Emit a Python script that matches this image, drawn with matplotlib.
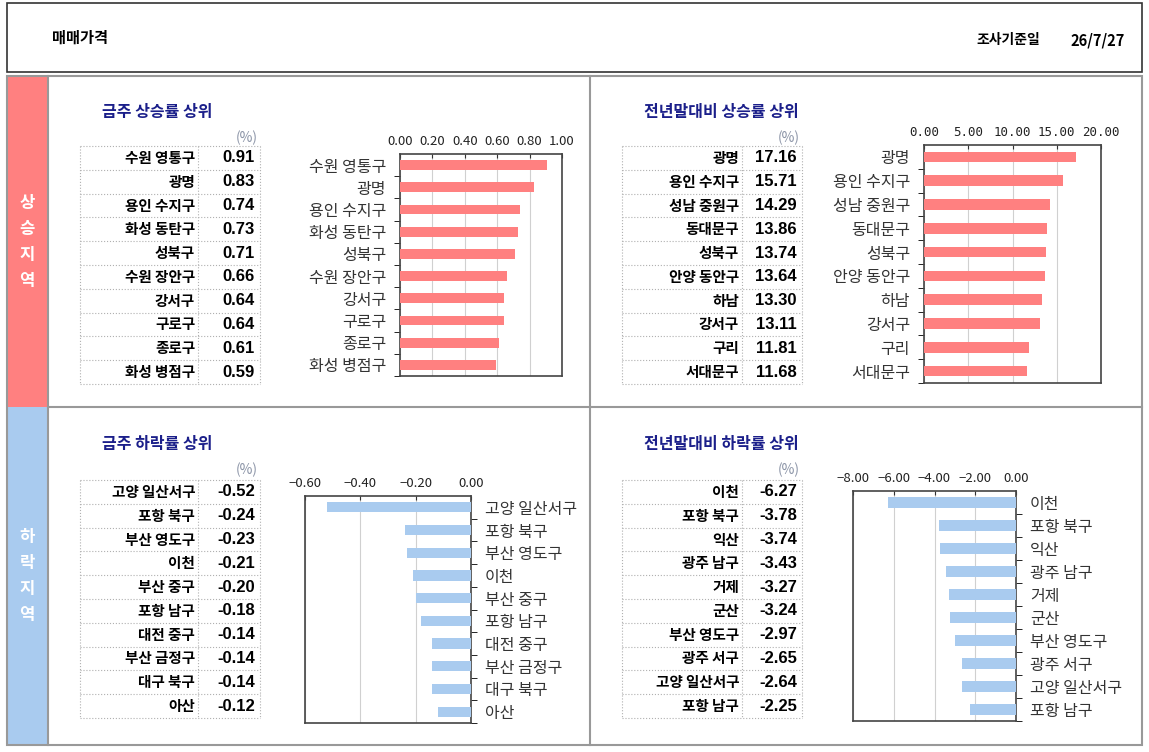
import matplotlib
matplotlib.use("Agg")
import matplotlib.pyplot as plt
from matplotlib.patches import Rectangle
from matplotlib.ticker import FixedLocator, FuncFormatter

plt.rcParams['font.family'] = ['Noto Sans CJK KR', 'DejaVu Sans']
plt.rcParams['axes.unicode_minus'] = True

# data
up_week_names = ['수원 영통구', '광명', '용인 수지구', '화성 동탄구', '성북구',
                 '수원 장안구', '강서구', '구로구', '종로구', '화성 병점구']
up_week_vals = [0.91, 0.83, 0.74, 0.73, 0.71, 0.66, 0.64, 0.64, 0.61, 0.59]

up_year_names = ['광명', '용인 수지구', '성남 중원구', '동대문구', '성북구',
                 '안양 동안구', '하남', '강서구', '구리', '서대문구']
up_year_vals = [17.16, 15.71, 14.29, 13.86, 13.74, 13.64, 13.30, 13.11, 11.81, 11.68]

down_week_names = ['고양 일산서구', '포항 북구', '부산 영도구', '이천', '부산 중구',
                   '포항 남구', '대전 중구', '부산 금정구', '대구 북구', '아산']
down_week_vals = [-0.52, -0.24, -0.23, -0.21, -0.20, -0.18, -0.14, -0.14, -0.14, -0.12]

down_year_names = ['이천', '포항 북구', '익산', '광주 남구', '거제', '군산',
                   '부산 영도구', '광주 서구', '고양 일산서구', '포항 남구']
down_year_vals = [-6.27, -3.78, -3.74, -3.43, -3.27, -3.24, -2.97, -2.65, -2.64, -2.25]

W, H = 1149, 752
fig = plt.figure(figsize=(W / 100, H / 100), dpi=100)
fig.patch.set_facecolor('white')

# background axes in pixel coords
bg = fig.add_axes([0, 0, 1, 1])
bg.set_xlim(0, W)
bg.set_ylim(H, 0)
bg.axis('off')

PINK = '#FF8080'
BLUE = '#A9CBEF'
NAVY = '#1b1f8a'
GRID = '#999999'

# header
bg.add_patch(Rectangle((7, 3), 1135, 69, fill=False, ec='#333333', lw=1.2))
bg.text(52, 38, '매매가격', fontsize=11, fontweight='bold', va='center', ha='left')
bg.text(1040, 40, '조사기준일', fontsize=10, fontweight='bold', va='center', ha='right')
bg.text(1125, 40, '26/7/27', fontsize=10.5, fontweight='bold', va='center', ha='right')

# main frame
bg.add_patch(Rectangle((7, 407), 41, 338, color=BLUE, lw=0))
bg.add_patch(Rectangle((7, 76), 41, 331, color=PINK, lw=0))
bg.add_patch(Rectangle((7, 76), 1135, 669, fill=False, ec=GRID, lw=1.5))
bg.plot([48, 48], [76, 745], color=GRID, lw=1.5)
bg.plot([590, 590], [76, 745], color=GRID, lw=1.5)
bg.plot([48, 1142], [407, 407], color=GRID, lw=1.5)
bg.text(27, 242, '상\n승\n지\n역', color='white', fontsize=12, fontweight='bold',
        ha='center', va='center', linespacing=1.55)
bg.text(27, 576, '하\n락\n지\n역', color='white', fontsize=12, fontweight='bold',
        ha='center', va='center', linespacing=1.55)


def table(x0, xm, x1, y0, y1, names, vals, title, ty):
    bg.text(x0 + 22, ty, title, color=NAVY, fontsize=11.5, fontweight='bold',
            ha='left', va='center')
    bg.text(x1 - 2, ty + 26, '(%)', color='#8a93a6', fontsize=10,
            ha='right', va='center')
    rh = (y1 - y0) / len(names)
    for i in range(len(names) + 1):
        y = y0 + i * rh
        bg.plot([x0, x1], [y, y], color='#b0b0b0', lw=0.8, ls=':')
    for x in (x0, xm, x1):
        bg.plot([x, x], [y0, y1], color='#b0b0b0', lw=0.8, ls=':')
    for i, (n, v) in enumerate(zip(names, vals)):
        yc = y0 + (i + 0.5) * rh
        bg.text(xm - 3, yc, n, fontsize=10.5, fontweight='bold', ha='right', va='center')
        bg.text(x1 - 5, yc, f'{v:.2f}', fontsize=12, fontweight='bold',
                ha='right', va='center', family=['Liberation Sans', 'DejaVu Sans'])


def chart(box, names, vals, color, xlim, step, labels_left, tickfont, tsize):
    x0, y0, x1, y1 = box
    ax = fig.add_axes([x0 / W, 1 - y1 / H, (x1 - x0) / W, (y1 - y0) / H])
    n = len(names)
    ax.barh(range(n), vals, height=0.45, color=color, zorder=3)
    ax.set_ylim(n - 0.5, -0.5)
    ax.set_xlim(*xlim)
    ticks = []
    t = xlim[0]
    while t <= xlim[1] + 1e-9:
        ticks.append(round(t, 6))
        t += step
    ax.set_xticks(ticks)
    ax.xaxis.set_major_formatter(FuncFormatter(
        lambda v, p: ('\u2212' if v < -1e-9 else '') + f'{abs(v):.2f}'))
    ax.xaxis.tick_top()
    ax.tick_params(axis='x', direction='in', length=3, pad=4, labelsize=tsize,
                   colors='#333333', labelcolor='#222222')
    for lb in ax.get_xticklabels():
        lb.set_family(tickfont)
    ax.grid(axis='x', color='#d0d0d0', lw=0.8, zorder=0)
    ax.set_yticks(range(n))
    ax.set_yticklabels(names, fontsize=11.5, color='#333333')
    ax.yaxis.set_minor_locator(FixedLocator([i + 0.5 for i in range(n)]))
    if labels_left:
        ax.tick_params(axis='y', which='major', length=0, pad=10)
        ax.tick_params(axis='y', which='minor', direction='out', length=4, left=True)
    else:
        ax.yaxis.tick_right()
        ax.tick_params(axis='y', which='major', length=0, pad=10)
        ax.tick_params(axis='y', which='minor', direction='out', length=4,
                       right=True, left=False)
    for s in ax.spines.values():
        s.set_color('#444444')
        s.set_linewidth(1.2)
    return ax


table(80, 198, 260, 146, 384, up_week_names, up_week_vals, '금주 상승률 상위', 112)
table(622, 742, 802, 146, 384, up_year_names, up_year_vals, '전년말대비 상승률 상위', 112)
table(80, 198, 260, 480, 718, down_week_names, down_week_vals, '금주 하락률 상위', 444)
table(622, 742, 802, 480, 718, down_year_names, down_year_vals, '전년말대비 하락률 상위', 444)

chart((400, 154, 562, 376), up_week_names, up_week_vals, PINK, (0, 1.0), 0.2, True,
      ['Noto Sans CJK KR', 'DejaVu Sans'], 9.5)
chart((924, 145, 1101, 383), up_year_names, up_year_vals, PINK, (0, 20), 5, True,
      ['DejaVu Sans Mono'], 9)
chart((305, 496, 471, 723), down_week_names, down_week_vals, BLUE, (-0.6, 0), 0.2, False,
      ['Noto Sans CJK KR', 'DejaVu Sans'], 9.5)
chart((853, 491, 1016, 721), down_year_names, down_year_vals, BLUE, (-8, 0), 2, False,
      ['Noto Sans CJK KR', 'DejaVu Sans'], 9.5)

fig.savefig('out.png', dpi=100)
